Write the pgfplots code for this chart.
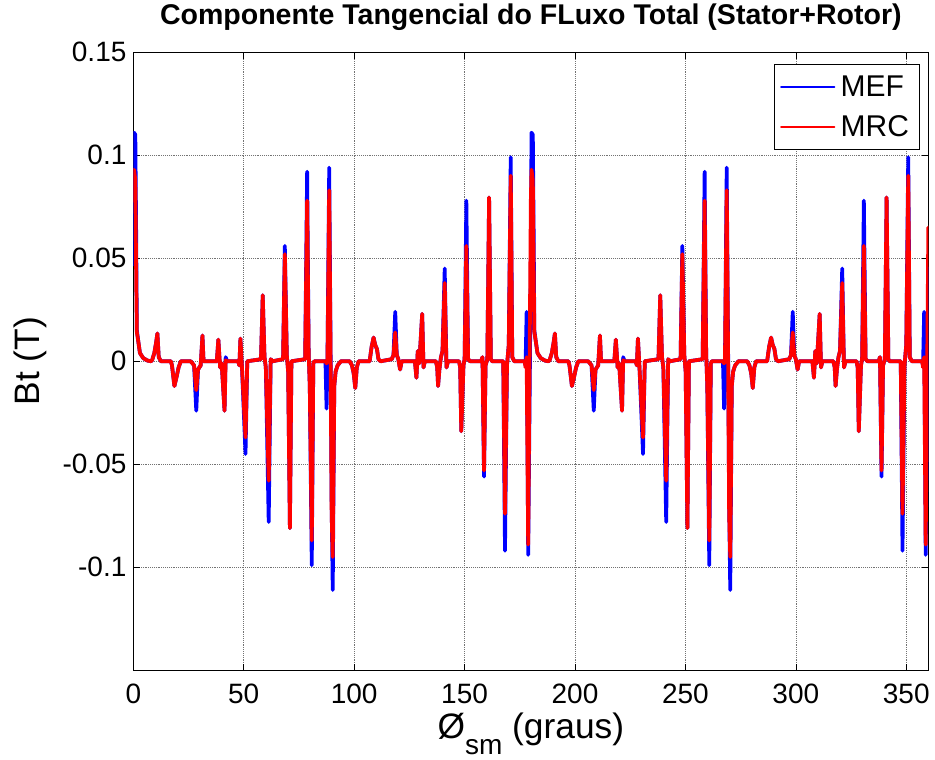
\documentclass[border=0pt]{standalone}
\usepackage{fontspec}
\setmainfont{Liberation Sans}
\usepackage{pgfplots}
\pgfplotsset{compat=1.18}
\usepackage{pgfplotstable}

\pgfplotstableread{
x mef mrc
0.0 0.047 0.078
0.3 0.111 0.093
0.9 0.110 0.088
1.3 0.060 0.040
1.6 0.015 0.014
2.2 0.010 0.010
3.0 0.004 0.004
4.5 0.0015 0.0015
6.5 0.0003 0.0003
8.0 0 0
8.5 0.0005 0.0005
9.5 0.004 0.004
10.3 0.009 0.009
10.9 0.0135 0.0135
11.5 0.002 0.002
12.5 0 0
17.0 0 0
17.5 -0.002 -0.002
18.6 -0.012 -0.012
19.5 -0.008 -0.008
20.5 -0.003 -0.003
21.5 0 0
26.0 0 0
27.5 -0.002 -0.002
28.5 -0.024 -0.014
29.3 -0.004 -0.004
30.5 -0.002 -0.002
31.3 0.0125 0.0125
31.8 0 0
37.8 0 0
38.5 0.0105 0.0105
39.3 -0.003 -0.003
40.0 -0.001 -0.001
41.3 -0.024 -0.024
41.8 0.002 0.0005
42.5 0 0
47.5 0 0
48.0 -0.002 -0.002
48.5 0.011 0.011
49.2 -0.003 -0.003
50.8 -0.045 -0.037
51.6 0 0
57.8 0.001 0.001
58.6 0.032 0.032
59.4 0.002 0.002
60.0 -0.003 -0.003
61.3 -0.078 -0.058
62.2 0.001 0.001
63.0 0 0
67.8 0.001 0.001
68.6 0.056 0.052
69.5 0.003 0.003
70.1 -0.005 -0.005
70.9 -0.081 -0.081
71.6 0 0
77.8 0.001 0.001
78.7 0.092 0.078
79.4 0.004 0.004
79.9 -0.012 -0.012
80.8 -0.099 -0.087
81.5 -0.001 -0.001
82.0 0 0
87.0 0 0
87.5 -0.023 -0.001
87.9 0 0
88.7 0.094 0.083
89.3 0.010 0.005
89.8 -0.070 -0.074
90.3 -0.111 -0.095
91.0 -0.012 -0.012
91.6 -0.005 -0.005
92.5 -0.002 -0.002
94.0 0 0
98.0 0 0
99.0 -0.002 -0.002
99.8 -0.006 -0.006
100.5 -0.013 -0.013
101.2 -0.003 -0.003
102.0 0 0
107.0 0 0
107.9 0.007 0.007
108.8 0.0115 0.0115
109.5 0.008 0.008
110.3 0.006 0.006
111.0 0.001 0.001
112.0 0 0
117.0 0.001 0.001
117.8 0.003 0.003
118.6 0.024 0.014
119.3 0.003 0.003
120.0 0.001 0.001
120.8 -0.004 -0.004
121.5 0 0
127.5 0 0
128.2 -0.008 -0.008
128.8 0.005 0.005
129.5 -0.001 -0.001
130.8 0.023 0.023
131.4 -0.003 -0.003
132.0 0 0
137.0 0 0
137.6 -0.003 -0.003
138.0 -0.012 -0.012
138.6 -0.004 -0.004
139.3 0.002 0.002
140.0 0.005 0.005
141.0 0.045 0.038
141.8 -0.003 -0.003
142.5 0 0
147.5 0 0
148.0 -0.003 -0.003
148.5 -0.034 -0.034
149.5 -0.002 -0.002
150.0 0.001 0.001
150.8 0.078 0.056
151.6 0.001 0.001
152.5 0 0
157.5 0 0
158.1 0.002 0.002
158.8 -0.056 -0.053
159.5 -0.002 -0.002
160.3 0.001 0.001
161.1 0.0795 0.0795
161.9 0.001 0.001
162.5 0 0
167.5 0 0
168.3 -0.092 -0.074
169.2 -0.002 -0.002
170.0 0.008 0.008
170.9 0.099 0.090
171.6 0.002 0.002
172.5 0 0
177.2 0 0
177.6 -0.002 -0.003
178.1 0.024 0.002
178.8 -0.094 -0.089
180.0 0.047 0.078
180.3 0.111 0.093
180.9 0.110 0.088
181.3 0.060 0.040
181.6 0.015 0.014
182.2 0.010 0.010
183.0 0.004 0.004
184.5 0.0015 0.0015
186.5 0.0003 0.0003
188.0 0 0
188.5 0.0005 0.0005
189.5 0.004 0.004
190.3 0.009 0.009
190.9 0.0135 0.0135
191.5 0.002 0.002
192.5 0 0
197.0 0 0
197.5 -0.002 -0.002
198.6 -0.012 -0.012
199.5 -0.008 -0.008
200.5 -0.003 -0.003
201.5 0 0
206.0 0 0
207.5 -0.002 -0.002
208.5 -0.024 -0.014
209.3 -0.004 -0.004
210.5 -0.002 -0.002
211.3 0.0125 0.0125
211.8 0 0
217.8 0 0
218.5 0.0105 0.0105
219.3 -0.003 -0.003
220.0 -0.001 -0.001
221.3 -0.024 -0.024
221.8 0.002 0.0005
222.5 0 0
227.5 0 0
228.0 -0.002 -0.002
228.5 0.011 0.011
229.2 -0.003 -0.003
230.8 -0.045 -0.037
231.6 0 0
237.8 0.001 0.001
238.6 0.032 0.032
239.4 0.002 0.002
240.0 -0.003 -0.003
241.3 -0.078 -0.058
242.2 0.001 0.001
243.0 0 0
247.8 0.001 0.001
248.6 0.056 0.052
249.5 0.003 0.003
250.1 -0.005 -0.005
250.9 -0.081 -0.081
251.6 0 0
257.8 0.001 0.001
258.7 0.092 0.078
259.4 0.004 0.004
259.9 -0.012 -0.012
260.8 -0.099 -0.087
261.5 -0.001 -0.001
262.0 0 0
267.0 0 0
267.5 -0.023 -0.001
267.9 0 0
268.7 0.094 0.083
269.3 0.010 0.005
269.8 -0.070 -0.074
270.3 -0.111 -0.095
271.0 -0.012 -0.012
271.6 -0.005 -0.005
272.5 -0.002 -0.002
274.0 0 0
278.0 0 0
279.0 -0.002 -0.002
279.8 -0.006 -0.006
280.5 -0.013 -0.013
281.2 -0.003 -0.003
282.0 0 0
287.0 0 0
287.9 0.007 0.007
288.8 0.0115 0.0115
289.5 0.008 0.008
290.3 0.006 0.006
291.0 0.001 0.001
292.0 0 0
297.0 0.001 0.001
297.8 0.003 0.003
298.6 0.024 0.014
299.3 0.003 0.003
300.0 0.001 0.001
300.8 -0.004 -0.004
301.5 0 0
307.5 0 0
308.2 -0.008 -0.008
308.8 0.005 0.005
309.5 -0.001 -0.001
310.8 0.023 0.023
311.4 -0.003 -0.003
312.0 0 0
317.0 0 0
317.6 -0.003 -0.003
318.0 -0.012 -0.012
318.6 -0.004 -0.004
319.3 0.002 0.002
320.0 0.005 0.005
321.0 0.045 0.038
321.8 -0.003 -0.003
322.5 0 0
327.5 0 0
328.0 -0.003 -0.003
328.5 -0.034 -0.034
329.5 -0.002 -0.002
330.0 0.001 0.001
330.8 0.078 0.056
331.6 0.001 0.001
332.5 0 0
337.5 0 0
338.1 0.002 0.002
338.8 -0.056 -0.053
339.5 -0.002 -0.002
340.3 0.001 0.001
341.1 0.0795 0.0795
341.9 0.001 0.001
342.5 0 0
347.5 0 0
348.3 -0.092 -0.074
349.2 -0.002 -0.002
350.0 0.008 0.008
350.9 0.099 0.090
351.6 0.002 0.002
352.5 0 0
357.2 0 0
357.6 -0.002 -0.003
358.1 0.024 0.002
358.8 -0.094 -0.089
360.0 0.045 0.065
}\btdata

\begin{document}
\begin{tikzpicture}
\begin{axis}[
  name=ax,
  scale only axis,
  width=596.25pt, height=463.5pt,
  xmin=0, xmax=360, ymin=-0.15, ymax=0.15,
  xtick={0,50,100,150,200,250,300,350},
  ytick={-0.1,-0.05,0,0.05,0.1,0.15},
  yticklabels={-0.1,-0.05,0,0.05,0.1,0.15},
  /pgf/number format/assume math mode=true,
  tick label style={font=\fontsize{21}{25}\selectfont},
  xticklabel style={anchor=base, yshift=-24.75pt},
  yticklabel style={anchor=east, inner sep=0pt, xshift=-5pt},
  tick align=inside,
  major tick length=5pt,
  tick style={black, line width=0.5pt},
  grid=major,
  major grid style={densely dotted, black!55, line width=0.5pt},
  axis line style={black, line width=0.8pt},
  title={\bfseries Componente Tangencial do FLuxo Total (Stator+Rotor)},
  title style={at={(axis description cs:0.5,1.0324)}, anchor=base, font=\fontsize{21.4}{25}\selectfont},
  xlabel={Ø\raisebox{-12pt}{\fontsize{21}{21}\selectfont sm} (graus)},
  xlabel style={at={(axis description cs:0.5,-0.1112)}, anchor=base, font=\fontsize{26.5}{30}\selectfont},
  ylabel={Bt (T)},
  ylabel style={at={(axis description cs:-0.1174,0.5)}, anchor=base, rotate=0, font=\fontsize{26.5}{30}\selectfont},
  legend cell align=left,
  legend style={at={(axis description cs:0.9896,0.9811)}, anchor=north east,
    draw=black, line width=0.6pt, fill=white,
    font=\fontsize{22.5}{27}\selectfont,
    inner xsep=4pt, inner ysep=4.7pt, row sep=4.4pt,
    nodes={inner sep=4pt}},
  legend image code/.code={\draw[#1, line width=1.5pt, line join=miter] plot coordinates {(0pt,0pt) (20pt,0pt) (40pt,0pt)};},
]
\addplot[blue, line width=2.8pt, line join=round, line cap=round] table[x=x, y=mef] {\btdata};
\addlegendentry{MEF}
\addplot[red, line width=2.8pt, line join=round, line cap=round] table[x=x, y=mrc] {\btdata};
\addlegendentry{MRC}
\end{axis}
\pgfresetboundingbox
\path[use as bounding box] ([xshift=-100pt,yshift=-67.3pt]ax.south west) rectangle ([xshift=5pt,yshift=39.2pt]ax.north east);
\end{tikzpicture}
\end{document}
